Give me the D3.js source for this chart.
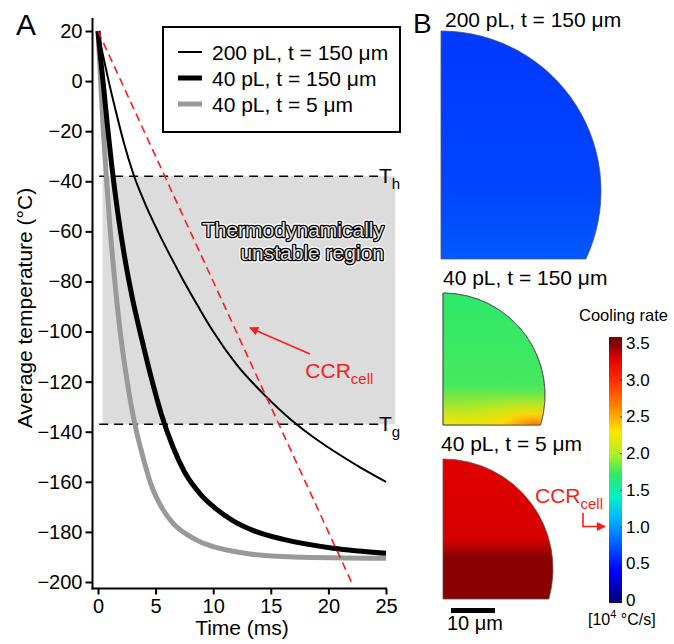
<!DOCTYPE html>
<html>
<head>
<meta charset="utf-8">
<script src="https://cdn.jsdelivr.net/npm/d3@7/dist/d3.min.js"></script>
<style>
  body { margin: 0; background: #fff; }
  svg { display: block; font-family: "Liberation Sans", Arial, sans-serif; }
</style>
</head>
<body>
<svg id="chart" width="674" height="644"></svg>
<script>
// ---- panel A data ----
const timeTicks = [0, 5, 10, 15, 20, 25];
const tempTicks = [20, 0, -20, -40, -60, -80, -100, -120, -140, -160, -180, -200];

const seriesNames = ["200 pL, t = 150 μm", "40 pL, t = 150 μm", "40 pL, t = 5 μm"];

const time200 = [0, 0.4, 0.9, 1.6, 2.3, 3.1, 4.0, 5.2, 6.3, 7.4, 8.7, 10, 12, 14.6, 16.7, 18.5, 20.4, 22.5, 25];
const temp200 = [20, 11, 0.5, -13, -25.5, -37.5, -48, -60, -70, -79.5, -90, -100, -113, -126, -135, -141.5, -147.5, -153.5, -160];

const time40 = [0, 0.25, 0.5, 0.8, 1.2, 1.7, 2.3, 3.0, 3.8, 4.6, 5.5, 6.5, 7.5, 8.9, 10.3, 11.7, 13.5, 16.1, 20.4, 25];
const temp40 = [20, 8, -3, -17, -34, -52, -70, -87, -103, -118, -133, -146, -156, -165, -171, -175.5, -179.5, -183, -186.5, -188.5];

const time40thin = [0, 0.2, 0.45, 0.75, 1.05, 1.4, 1.9, 2.5, 3.2, 3.9, 4.6, 5.5, 6.5, 7.7, 8.9, 10.5, 13.2, 17, 25];
const temp40thin = [20, 3, -19, -40, -59, -77, -99, -119, -137, -150, -161, -170, -176.5, -181, -184, -186.5, -188.8, -190, -190.5];

const ccrTime = [0, 22];
const ccrTemp = [20, -200];

const tempHomogeneous = -38;   // T_h
const tempGlass = -137;        // T_g
const regionTime = [0.4, 25.8];

// ---- panel B data ----
const dropletTitles = ["200 pL, t = 150 μm", "40 pL, t = 150 μm", "40 pL, t = 5 μm"];
const dropletRateTop = [0.62, 1.7, 3.3];
const dropletRateBottom = [0.75, 2.3, 3.48];
const rateTicks = [0, 0.5, 1.0, 1.5, 2.0, 2.5, 3.0, 3.5];
const ccrCellRate = 1.0;

const svg = d3.select("#chart");
const defs = svg.append("defs");

const x = d3.scaleLinear().domain([0, 25]).range([98, 386]);
const y = d3.scaleLinear().domain([-200, 20]).range([582, 31]);

// shaded unstable region
svg.append("rect")
  .attr("x", x(regionTime[0]))
  .attr("y", y(tempHomogeneous))
  .attr("width", x(regionTime[1]) - x(regionTime[0]))
  .attr("height", y(tempGlass) - y(tempHomogeneous))
  .attr("fill", "#dcdcdc");

// T_h / T_g dashed lines
[[tempHomogeneous, "h"], [tempGlass, "g"]].forEach(([t, sub]) => {
  svg.append("line")
    .attr("x1", x(0.1)).attr("x2", x(24.4))
    .attr("y1", y(t)).attr("y2", y(t))
    .attr("stroke", "#000").attr("stroke-width", 1.5)
    .attr("stroke-dasharray", "9,6");
  const lab = svg.append("text")
    .attr("x", 379).attr("y", y(t) + 7)
    .attr("font-size", 21);
  lab.append("tspan").text("T");
  lab.append("tspan").attr("font-size", 15).attr("dy", 6).text(sub);
});

// outlined annotation text
const regionLines = ["Thermodynamically", "unstable region"];
[["#fff", 5], ["#000", 2.6], ["#dedede", 0]].forEach(([col, w]) => {
  regionLines.forEach((s, i) => {
    const t = svg.append("text")
      .attr("x", 384).attr("y", 237 + i * 23)
      .attr("text-anchor", "end")
      .attr("font-size", 21)
      .text(s);
    if (w > 0) t.attr("fill", col).attr("stroke", col).attr("stroke-width", w).attr("stroke-linejoin", "round");
    else t.attr("fill", col);
  });
});

// curves
const line = d3.line().x(d => x(d[0])).y(d => y(d[1])).curve(d3.curveMonotoneX);
const series = [
  { t: time40thin, v: temp40thin, color: "#999", width: 5 },
  { t: time40, v: temp40, color: "#000", width: 5 },
  { t: time200, v: temp200, color: "#000", width: 2 }
];
series.forEach(s => {
  svg.append("path")
    .datum(s.t.map((d, i) => [d, s.v[i]]))
    .attr("d", line)
    .attr("fill", "none")
    .attr("stroke", s.color)
    .attr("stroke-width", s.width);
});

// CCR cell line
svg.append("path")
  .datum(ccrTime.map((d, i) => [d, ccrTemp[i]]))
  .attr("d", d3.line().x(d => x(d[0])).y(d => y(d[1])))
  .attr("fill", "none")
  .attr("stroke", "#ff1a1a")
  .attr("stroke-width", 1.6)
  .attr("stroke-dasharray", "8,5");

// arrow marker
defs.append("marker")
  .attr("id", "arrowRed")
  .attr("viewBox", "0 0 10 10")
  .attr("refX", 9).attr("refY", 5)
  .attr("markerWidth", 10).attr("markerHeight", 9)
  .attr("markerUnits", "userSpaceOnUse")
  .attr("orient", "auto")
  .append("path")
  .attr("d", "M0,0L10,5L0,10Z")
  .attr("fill", "#ff1a1a");

svg.append("line")
  .attr("x1", x(18.4)).attr("y1", y(-109))
  .attr("x2", x(13.2)).attr("y2", y(-98.5))
  .attr("stroke", "#ff1a1a").attr("stroke-width", 1.6)
  .attr("marker-end", "url(#arrowRed)");

const ccrA = svg.append("text")
  .attr("x", x(18.0)).attr("y", y(-118.4))
  .attr("fill", "#ff1a1a").attr("font-size", 21);
ccrA.append("tspan").text("CCR");
ccrA.append("tspan").attr("font-size", 15).attr("dy", 6).text("cell");

// axes
const yAxis = svg.append("g")
  .attr("transform", "translate(92.5,0)")
  .call(d3.axisLeft(y).tickValues(tempTicks).tickSize(7).tickPadding(3).tickFormat(d3.format("d")));
const xAxis = svg.append("g")
  .attr("transform", "translate(0,588.5)")
  .call(d3.axisBottom(x).tickValues(timeTicks).tickSize(6).tickPadding(4));
[yAxis, xAxis].forEach(g => {
  g.select(".domain").remove();
  g.selectAll("line").attr("stroke", "#000").attr("stroke-width", 2);
  g.selectAll("text").attr("font-size", 20).attr("fill", "#000")
    .attr("font-family", "Liberation Sans, Arial, sans-serif");
});
svg.append("line").attr("x1", 92.5).attr("x2", 92.5).attr("y1", 18).attr("y2", 589.5)
  .attr("stroke", "#000").attr("stroke-width", 2);
svg.append("line").attr("x1", 91.5).attr("x2", 387).attr("y1", 588.5).attr("y2", 588.5)
  .attr("stroke", "#000").attr("stroke-width", 2);

svg.append("text")
  .attr("transform", "translate(32,308) rotate(-90)")
  .attr("text-anchor", "middle").attr("font-size", 21)
  .text("Average temperature (°C)");
svg.append("text")
  .attr("x", 242).attr("y", 635)
  .attr("text-anchor", "middle").attr("font-size", 21)
  .text("Time (ms)");

svg.append("text").attr("x", 16).attr("y", 35).attr("font-size", 30).text("A");

// legend
svg.append("rect")
  .attr("x", 163).attr("y", 27).attr("width", 237).attr("height", 105)
  .attr("fill", "#fff").attr("stroke", "#000").attr("stroke-width", 2);
const legendSeries = [series[2], series[1], series[0]];
seriesNames.forEach((name, i) => {
  const cy = 52 + i * 26;
  svg.append("line")
    .attr("x1", 178).attr("x2", 202).attr("y1", cy).attr("y2", cy)
    .attr("stroke", legendSeries[i].color).attr("stroke-width", legendSeries[i].width);
  svg.append("text")
    .attr("x", 212).attr("y", cy + 7.5)
    .attr("font-size", 21).text(name);
});

// ---- panel B ----
const colorStops = [
  [0.0, "#00007f"], [0.4, "#0000ff"], [1.1, "#00b4ff"], [1.4, "#00f0c8"],
  [1.7, "#2ee86a"], [2.0, "#b4f020"], [2.3, "#ffe600"], [2.6, "#ff8c00"],
  [3.0, "#ff2a00"], [3.3, "#e00000"], [3.5, "#800000"]
];
const color = d3.scaleLinear()
  .domain(colorStops.map(d => d[0]))
  .range(colorStops.map(d => d[1]))
  .interpolate(d3.interpolateRgb)
  .clamp(true);

svg.append("text").attr("x", 413).attr("y", 33).attr("font-size", 28).text("B");

const droplets = [
  { cx: 441, cy: 191, r: 160, bottom: 259, titleY: 27, titleX: 445 },
  { cx: 443, cy: 395, r: 102, bottom: 425, titleY: 285, titleX: 443 },
  { cx: 443, cy: 569, r: 110, bottom: 599, titleY: 451, titleX: 441 }
];

droplets.forEach((d, i) => {
  const gid = "drop" + i;
  const g = defs.append("linearGradient")
    .attr("id", gid).attr("gradientUnits", "userSpaceOnUse")
    .attr("x1", 0).attr("x2", 0)
    .attr("y1", d.cy - d.r).attr("y2", d.bottom);
  if (i === 2) {
    g.append("stop").attr("offset", "0%").attr("stop-color", color(dropletRateTop[i]));
    g.append("stop").attr("offset", "57%").attr("stop-color", color(dropletRateTop[i] + 0.02));
    g.append("stop").attr("offset", "70%").attr("stop-color", color(dropletRateBottom[i]));
    g.append("stop").attr("offset", "100%").attr("stop-color", color(dropletRateBottom[i]));
  } else {
    g.append("stop").attr("offset", "0%").attr("stop-color", color(dropletRateTop[i]));
    g.append("stop").attr("offset", "70%").attr("stop-color", color(dropletRateTop[i] + 0.05));
    g.append("stop").attr("offset", "100%").attr("stop-color", color(dropletRateBottom[i]));
  }

  const dy = d.bottom - d.cy;
  const xb = d.cx + Math.sqrt(d.r * d.r - dy * dy);
  const p = d3.path();
  p.moveTo(d.cx, d.bottom);
  p.lineTo(d.cx, d.cy - d.r);
  p.arc(d.cx, d.cy, d.r, -Math.PI / 2, Math.asin(dy / d.r), false);
  p.lineTo(xb, d.bottom);
  p.closePath();

  svg.append("path")
    .attr("d", p.toString())
    .attr("fill", "url(#" + gid + ")")
    .attr("stroke", "#555").attr("stroke-width", 0.8);

  if (i === 1) {
    const rg = defs.append("radialGradient")
      .attr("id", "hot1").attr("gradientUnits", "userSpaceOnUse")
      .attr("cx", xb - 6).attr("cy", d.bottom).attr("r", 70)
      .attr("gradientTransform", `translate(${xb - 6},${d.bottom}) scale(1.3,0.45) translate(${-(xb - 6)},${-d.bottom})`);
    rg.append("stop").attr("offset", "0%").attr("stop-color", color(2.7)).attr("stop-opacity", 1);
    rg.append("stop").attr("offset", "35%").attr("stop-color", color(2.35)).attr("stop-opacity", 0.8);
    rg.append("stop").attr("offset", "100%").attr("stop-color", color(2.0)).attr("stop-opacity", 0);
    svg.append("path")
      .attr("d", p.toString())
      .attr("fill", "url(#hot1)")
      .attr("stroke", "#555").attr("stroke-width", 0.8);
  }

  svg.append("text")
    .attr("x", d.titleX).attr("y", d.titleY)
    .attr("font-size", 21).text(dropletTitles[i]);
});

// scale bar
svg.append("rect").attr("x", 451).attr("y", 608).attr("width", 44).attr("height", 5).attr("fill", "#000");
svg.append("text").attr("x", 447).attr("y", 630).attr("font-size", 20).text("10 μm");

// colour bar
const c = d3.scaleLinear().domain([0, 3.5]).range([600, 343]);
const cbGrad = defs.append("linearGradient")
  .attr("id", "cbGrad").attr("gradientUnits", "userSpaceOnUse")
  .attr("x1", 0).attr("x2", 0).attr("y1", c(0)).attr("y2", c(3.5));
colorStops.forEach(s => {
  cbGrad.append("stop")
    .attr("offset", (s[0] / 3.5 * 100) + "%")
    .attr("stop-color", s[1]);
});
svg.append("rect")
  .attr("x", 609).attr("y", 337).attr("width", 13).attr("height", 266)
  .attr("fill", "url(#cbGrad)");
const cAxis = svg.append("g")
  .attr("transform", "translate(622,0)")
  .call(d3.axisRight(c).tickValues(rateTicks).tickSize(-2).tickPadding(4)
    .tickFormat(d => d === 0 ? "0" : d3.format(".1f")(d)));
cAxis.select(".domain").remove();
cAxis.selectAll("line").attr("stroke", "#333").attr("stroke-width", 1);
cAxis.selectAll("text").attr("font-size", 17).attr("fill", "#000")
  .attr("font-family", "Liberation Sans, Arial, sans-serif");

svg.append("text").attr("x", 579).attr("y", 321).attr("font-size", 16.5).text("Cooling rate");
const unit = svg.append("text").attr("x", 588).attr("y", 625).attr("font-size", 16);
unit.append("tspan").text("[10");
unit.append("tspan").attr("font-size", 11).attr("dy", -7).text("4");
unit.append("tspan").attr("dy", 7).text(" °C/s]");

// CCR cell marker in panel B
const ccrB = svg.append("text")
  .attr("x", 535).attr("y", 503)
  .attr("fill", "#ff1a1a").attr("font-size", 21);
ccrB.append("tspan").text("CCR");
ccrB.append("tspan").attr("font-size", 15).attr("dy", 6).text("cell");
svg.append("path")
  .attr("d", `M583,513V${c(ccrCellRate)}H605`)
  .attr("fill", "none")
  .attr("stroke", "#ff1a1a").attr("stroke-width", 1.6)
  .attr("marker-end", "url(#arrowRed)");
</script>
</body>
</html>
